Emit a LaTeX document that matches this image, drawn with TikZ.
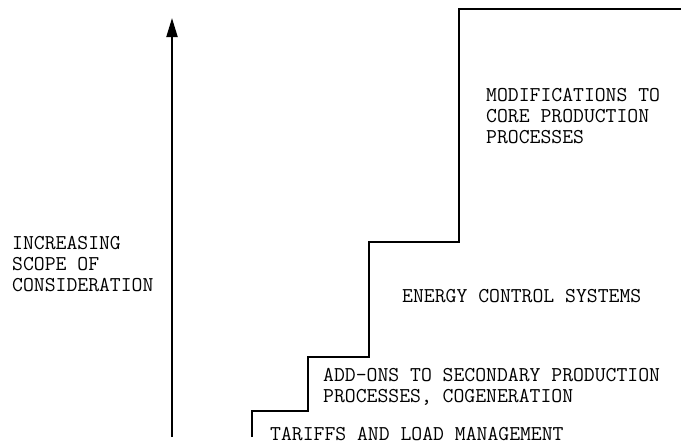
\documentclass[tikz,border=0pt]{standalone}
\usetikzlibrary{arrows.meta}

\begin{document}
\begin{tikzpicture}[x=1pt,y=-1pt,
  lbl/.style={anchor=base west,inner sep=0pt,align=left,
    font=\ttfamily\fontsize{21.1}{20.6}\selectfont},
  stair/.style={line width=2pt},
  axis/.style={line width=2pt,-{Triangle[length=19pt,width=11pt]}}]
  \useasboundingbox (0,0) rectangle (681,445);
  \coordinate (a0) at (172,437);
  \coordinate (a1) at (172,18);
  \coordinate (s0) at (252,437);
  \coordinate (s1) at (308,411);
  \coordinate (s2) at (369,357);
  \coordinate (s3) at (459,242);
  \coordinate (s4) at (681,9);

  \draw[axis] (a0) -- (a1);
  \draw[stair] (s0) |- (s1) |- (s2) |- (s3) |- (s4);

  \node[lbl] (scope) at (12,291) {INCREASING\\SCOPE OF\\CONSIDERATION};
  \node[lbl] (core) at (486,143) {MODIFICATIONS TO\\CORE PRODUCTION\\PROCESSES};
  \node[lbl] (ecs) at (402,302) {ENERGY CONTROL SYSTEMS};
  \node[lbl] (addon) at (323,402) {ADD-ONS TO SECONDARY PRODUCTION\\PROCESSES, COGENERATION};
  \node[lbl] (tariff) at (270,440) {TARIFFS AND LOAD MANAGEMENT};
\end{tikzpicture}
\end{document}
